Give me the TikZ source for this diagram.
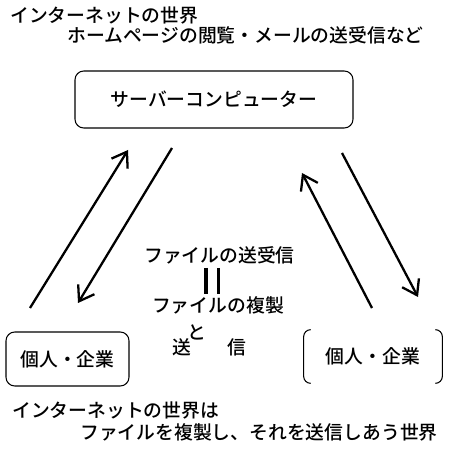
\documentclass[tikz,border=0pt]{standalone}
\usepackage{fontspec}
\newfontfamily\jpfont{Noto Sans CJK JP}[BoldFont={Noto Sans CJK JP Medium}]
\usetikzlibrary{arrows.meta}
\begin{document}
\begin{tikzpicture}[x=1cm, y=1cm,
	jtext/.style={font=\jpfont\bfseries\fontsize{10.7}{12}\selectfont, inner sep=0pt},
	kbox/.style={jtext, draw, line width=0.6pt, rounded corners=5pt},
	flow/.style={line width=1.3pt, -{Straight Barb[length=2.8mm, width=3.8mm, line width=1.3pt]}}]
	\useasboundingbox (0,0) rectangle (9,9);
	\node[jtext, anchor=west] (title1) at (0.2, 8.7) {インターネットの世界};
	\node[jtext, anchor=west] (title2) at (1.34, 8.3) {ホームページの閲覧・メールの送受信など};
	\node[kbox, minimum width=5.56cm, minimum height=1.14cm] (server) at (4.28, 7.01) {サーバーコンピューター};
	\node[kbox, minimum width=2.46cm, minimum height=1.08cm] (kojinL) at (1.35, 1.82) {個人・企業};
	\node[jtext, minimum width=2.76cm, minimum height=1.06cm] (kojinR) at (7.46, 1.87) {個人・企業};
	\draw[line width=0.6pt] ([xshift=4pt]kojinR.north west) [rounded corners=4pt] -- (kojinR.north west) -- (kojinR.south west) -- ([xshift=4pt]kojinR.south west);
	\draw[line width=0.6pt] ([xshift=-4pt]kojinR.north east) [rounded corners=4pt] -- (kojinR.north east) -- (kojinR.south east) -- ([xshift=-4pt]kojinR.south east);
	\coordinate (lu1) at (0.6, 2.84);
	\coordinate (lu2) at (2.56, 6.0);
	\coordinate (ld1) at (3.44, 6.04);
	\coordinate (ld2) at (1.56, 2.94);
	\coordinate (ru1) at (7.44, 2.84);
	\coordinate (ru2) at (6.04, 5.54);
	\coordinate (rd1) at (6.84, 5.94);
	\coordinate (rd2) at (8.36, 3.06);
	\draw[flow] (lu1) -- (lu2);
	\draw[flow] (ld1) -- (ld2);
	\draw[flow] (ru1) -- (ru2);
	\draw[flow] (rd1) -- (rd2);
	\node[jtext] (soujushin) at (4.39, 3.9) {ファイルの送受信};
	\draw[line width=1.9pt] (4.12, 3.64) -- (4.12, 3.12);
	\draw[line width=1.9pt] (4.37, 3.64) -- (4.37, 3.12);
	\node[jtext] (fukusei) at (4.36, 2.9) {ファイルの複製};
	\node[jtext] (to) at (3.94, 2.36) {と};
	\node[jtext] (sou) at (3.64, 2.06) {送};
	\node[jtext] (shin) at (4.74, 2.06) {信};
	\node[jtext, anchor=west] (matome1) at (0.24, 0.8) {インターネットの世界は};
	\node[jtext, anchor=west] (matome2) at (1.6, 0.36) {ファイルを複製し、それを送信しあう世界};
\end{tikzpicture}
\end{document}
